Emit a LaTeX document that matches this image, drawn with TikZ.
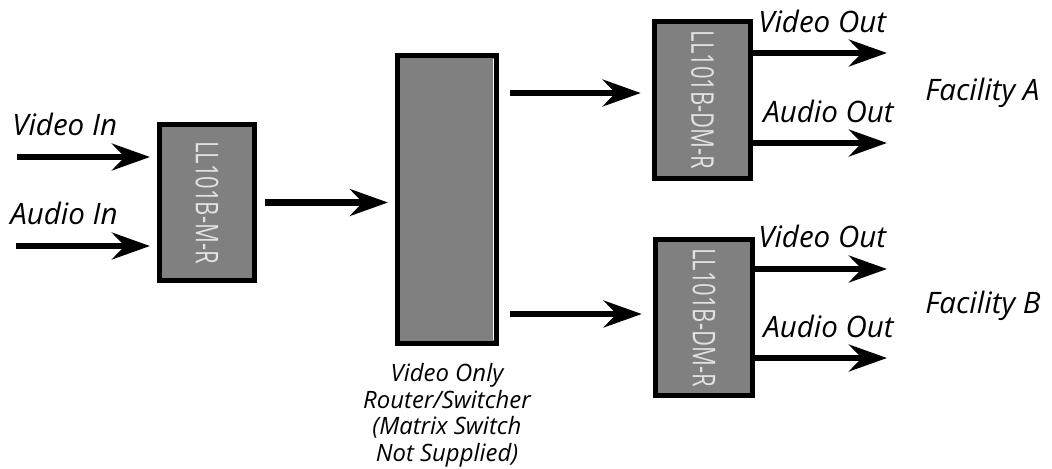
\documentclass[tikz,border=0pt]{standalone}
\usepackage{fontspec}
\setmainfont{Open Sans}
\usepackage{graphicx}
\usepackage{xcolor}
\usepackage{tikz}
\usetikzlibrary{positioning,arrows.meta}

\definecolor{boxgray}{HTML}{808080}
\definecolor{taggray}{HTML}{E2E2E2}

\newcommand{\boxtag}[1]{\rotatebox{-90}{\scalebox{0.95}[1.35]{#1}}}

\tikzset{
  unit/.style={draw=black, line width=3.5pt, rectangle, fill=boxgray,
    text=taggray, font=\fontsize{16.5}{18}\selectfont, inner sep=0pt},
  sig/.style={line width=4.8pt, -{Stealth[length=27pt,width=19pt,inset=9pt]}},
  lbl/.style={font=\fontsize{21}{25}\selectfont\itshape, anchor=base west, inner sep=0pt}
}

\begin{document}
\begin{tikzpicture}[x=0.025cm, y=-0.025cm]
    \useasboundingbox (0,0) rectangle (1052,468);

    % Boxes
    \node [unit, minimum width=2.375cm, minimum height=3.9cm] (enc) at (207,202.5) {\boxtag{LL101B-M-R}};
    \node [unit, minimum width=2.475cm, minimum height=7.2cm] (router) at (447,199.5) {};
    \draw [white, line width=0.8pt] ([xshift=-4pt,yshift=-4pt]router.north east) -- ([xshift=-4pt,yshift=4pt]router.south east);
    \node [unit, minimum width=2.4cm, minimum height=3.925cm] (decA) at (702.5,100) {\boxtag{LL101B-DM-R}};
    \node [unit, minimum width=2.425cm, minimum height=3.9cm] (decB) at (704,317.5) {\boxtag{LL101B-DM-R}};

    \node [below=12pt of router, align=center, inner sep=0pt, font=\fontsize{17}{19}\selectfont\itshape] (caption) {Video Only\\ Router/Switcher\\ (Matrix Switch\\ Not Supplied)};

    % Labels
    \node [lbl] (lvin) at (12,135) {Video In};
    \node [lbl] (lain) at (10,224) {Audio In};
    \node [lbl] (lvoA) at (758,32) {Video Out};
    \node [lbl] (laoA) at (763,122) {Audio Out};
    \node [lbl] (lfacA) at (925,100) {Facility A};
    \node [lbl] (lvoB) at (758,247) {Video Out};
    \node [lbl] (laoB) at (763,337) {Audio Out};
    \node [lbl] (lfacB) at (925,313) {Facility B};

    % Free ends
    \coordinate (vin) at (17,157);
    \coordinate (ain) at (16,246);
    \coordinate (toA) at (0,93);
    \coordinate (toB) at (0,314);
    \coordinate (voA) at (887,53);
    \coordinate (aoA) at (887,143);
    \coordinate (voB) at (887,269);
    \coordinate (aoB) at (887,358);

    % Arrows
    \draw [sig, shorten >=5pt] (vin) -- (vin -| enc.west);
    \draw [sig, shorten >=5pt] (ain) -- (ain -| enc.west);
    \draw [sig, shorten <=6pt, shorten >=5pt] (enc.east) -- (enc.east -| router.west);
    \draw [sig, shorten <=8pt, shorten >=8pt] (router.east |- toA) -- (decA.west |- toA);
    \draw [sig, shorten <=8pt, shorten >=8pt] (router.east |- toB) -- (decB.west |- toB);
    \draw [sig] (decA.east |- voA) -- (voA);
    \draw [sig] (decA.east |- aoA) -- (aoA);
    \draw [sig] (decB.east |- voB) -- (voB);
    \draw [sig] (decB.east |- aoB) -- (aoB);
\end{tikzpicture}
\end{document}
